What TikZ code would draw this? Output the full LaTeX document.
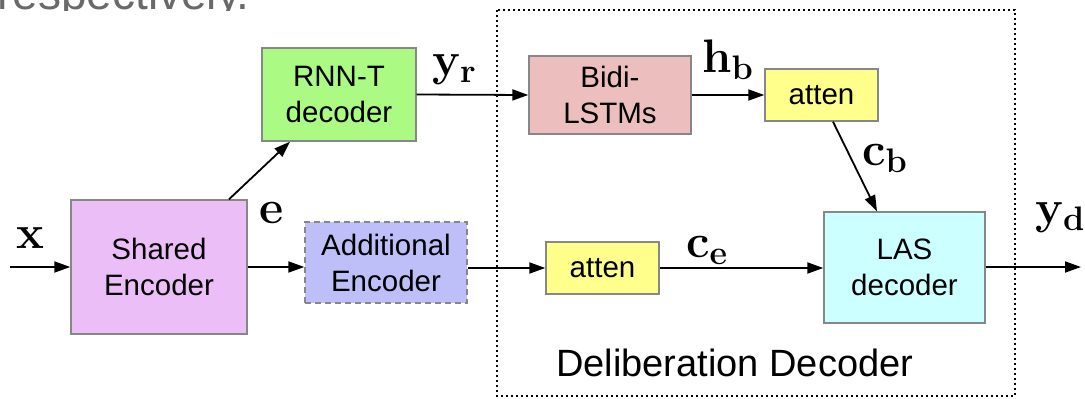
\documentclass[tikz,border=0pt]{standalone}
\usepackage{fontspec}
\newfontfamily\boxfont{Liberation Sans}
\usetikzlibrary{arrows.meta}

\definecolor{encpink}{RGB}{236,190,248}
\definecolor{rnngreen}{RGB}{170,250,132}
\definecolor{addblue}{RGB}{190,190,248}
\definecolor{lstmrose}{RGB}{236,190,190}
\definecolor{attyellow}{RGB}{255,255,140}
\definecolor{lascyan}{RGB}{204,255,255}
\definecolor{edgegray}{RGB}{135,135,135}
\definecolor{textgray}{RGB}{105,105,105}

% bold signal name with a lowered bold index
\newcommand{\signame}[2]{\bfseries #1\raisebox{-7pt}{\fontsize{34}{34}\selectfont\bfseries #2}}

\tikzset{
  block/.style={draw=edgegray, line width=1.4pt, inner sep=0pt, align=center,
    font=\boxfont\fontsize{29.5}{36}\selectfont},
  flow/.style={line width=1.8pt, -{Triangle[length=16pt,width=11pt]}},
  sym/.style={anchor=base west, inner sep=0pt, font=\rmfamily\fontsize{47}{47}\selectfont},
  frame/.style={line width=1.6pt, dash pattern=on 1.6pt off 3.4pt}
}

\begin{document}
\begin{tikzpicture}[x=1pt, y=-1pt]
  \useasboundingbox (0,0) rectangle (1085,399);

  % sentence above the figure, partly cut off by the top edge
  \begin{scope}
    \clip (0,0) rectangle (1085,10);
    \node[anchor=base west, inner sep=0pt, text=textgray,
          font=\boxfont\fontsize{46}{46}\selectfont] (prev) at (-3,9) {respectively.};
  \end{scope}

  % deliberation decoder frame
  \draw[frame] (497,10) rectangle (1015,396);
  \node[anchor=base west, inner sep=0pt, font=\boxfont\fontsize{38}{38}\selectfont]
    (dd) at (556,376) {Deliberation Decoder};

  % blocks
  \node[block, fill=encpink, minimum width=176pt, minimum height=134pt]
    (shared) at (159,267) {Shared\\Encoder};
  \node[block, fill=rnngreen, minimum width=154pt, minimum height=93pt]
    (rnnt) at (339,94.5) {RNN-T\\decoder};
  \node[block, fill=addblue, dash pattern=on 6pt off 4pt, minimum width=162pt, minimum height=81pt]
    (addenc) at (386,262.5) {Additional\\Encoder};
  \node[block, fill=lstmrose, minimum width=162pt, minimum height=78pt]
    (bidi) at (610,95) {Bidi-\\LSTMs};
  \node[block, fill=attyellow, minimum width=113pt, minimum height=52pt]
    (attb) at (821.5,95) {atten};
  \node[block, fill=attyellow, minimum width=113pt, minimum height=52pt]
    (atte) at (602.5,268) {atten};
  \node[block, fill=lascyan, minimum width=161pt, minimum height=111pt]
    (las) at (904.5,267.5) {LAS\\decoder};

  % free ends
  \coordinate (xin) at (10,267);
  \coordinate (yout) at (1081,267);

  % connectors
  \draw[flow] (xin) -- (shared.west);
  \draw[flow] (shared.east) -- (shared.east -| addenc.west);
  \draw[flow] ([xshift=70pt]shared.north) -- ([xshift=-49pt]rnnt.south);
  \draw[flow] (rnnt.east) -- (bidi.west);
  \draw[flow] (bidi.east) -- (attb.west);
  \draw[flow] ([xshift=11.5pt]attb.south) -- ([xshift=-27.5pt]las.north);
  \draw[flow] (addenc.east |- atte.west) -- (atte.west);
  \draw[flow] (atte.east) -- (atte.east -| las.west);
  \draw[flow] (las.east |- yout) -- (yout);

  % signal labels
  \node[sym] (lx)  at (16,248)  {\bfseries x};
  \node[sym] (le)  at (259,223) {\bfseries e};
  \node[sym] (lyr) at (432,75)  {\signame{y}{r}};
  \node[sym] (lhb) at (702,72)  {\signame{h}{b}};
  \node[sym] (lcb) at (862,165) {\signame{c}{b}};
  \node[sym] (lce) at (686,257) {\signame{c}{e}};
  \node[sym] (lyd) at (1035,223) {\signame{y}{d}};
\end{tikzpicture}
\end{document}
